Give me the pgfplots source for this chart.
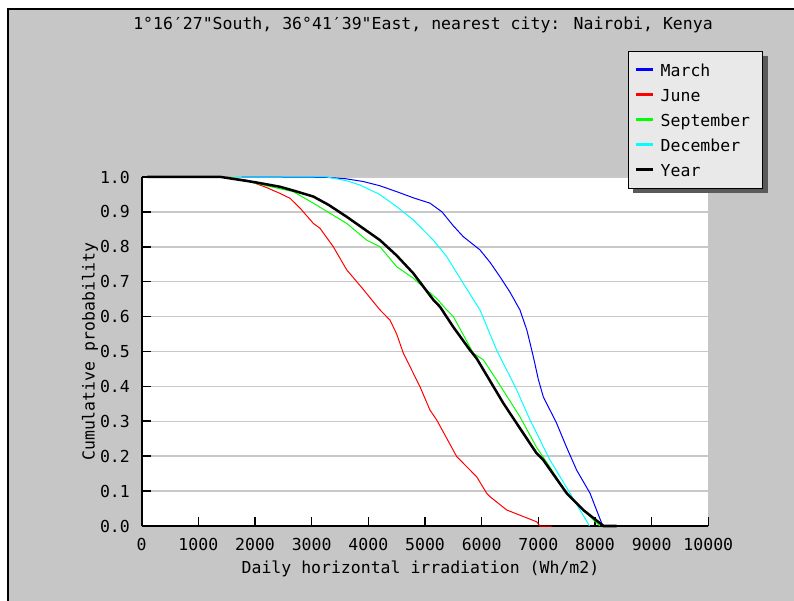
\documentclass[border=0pt]{standalone}
\usepackage{pgfplots}
\pgfplotsset{compat=1.18}
\usepackage{fontspec}
\setmainfont{DejaVu Sans Mono}[Ligatures=TeXOff]

\definecolor{panel}{RGB}{198,198,198}
\definecolor{gridgray}{RGB}{200,200,200}
\definecolor{legbg}{RGB}{233,233,233}
\definecolor{shadowgray}{RGB}{90,90,90}
\definecolor{mgreen}{RGB}{0,255,0}
\definecolor{mcyan}{RGB}{0,255,255}

\newcommand{\chartfont}{\fontsize{16.5bp}{19bp}\selectfont}

\begin{document}
\chartfont
\begin{tikzpicture}
% page: white margin, grey panel with a dark edge at left and top
\path[use as bounding box] (0,0) rectangle (794bp,601bp);
\fill[white] (0,0) rectangle (794bp,601bp);
\fill[panel] (8bp,0) rectangle (794bp,592bp);
\draw[line width=2bp] (8bp,0) -- (8bp,592bp) -- (794bp,592bp);

\begin{axis}[
    at={(141.7bp,75bp)}, anchor=south west,
    scale only axis, width=566.6bp, height=349bp,
    xmin=0, xmax=10000, ymin=0, ymax=1,
    axis background/.style={fill=white},
    axis lines*=left,
    axis line style={line width=1.6bp, black},
    tick align=inside,
    major tick length=9bp,
    tick style={line width=1.6bp, black},
    xtick={0,1000,2000,3000,4000,5000,6000,7000,8000,9000,10000},
    ytick={0,0.1,0.2,0.3,0.4,0.5,0.6,0.7,0.8,0.9,1},
    scaled x ticks=false,
    ymajorgrids,
    major grid style={gridgray, line width=1.5bp},
    /pgf/number format/assume math mode=true,
    xticklabel style={font=\chartfont, anchor=center, yshift=-18bp,
        /pgf/number format/1000 sep={}},
    yticklabel style={font=\chartfont, anchor=east, inner sep=0pt, xshift=-11.7bp,
        /pgf/number format/.cd, fixed, fixed zerofill, precision=1},
    xlabel={Daily horizontal irradiation (Wh/m2)},
    xlabel style={font=\chartfont, at={(axis description cs:0.492,-0.1232)}, anchor=center},
    ylabel={Cumulative probability},
    ylabel style={font=\chartfont, at={(axis description cs:-0.0912,0.5)}, anchor=center},
    title={1°16′27"South, 36°41′39"East, nearest city: Nairobi, Kenya},
    title style={font=\chartfont, at={(axis description cs:0.4965,1.418)}, anchor=center},
    clip=false,
    legend cell align=left,
    legend image code/.code={\draw[#1, line width=2.5bp] (0bp,0bp) -- (17bp,0bp);},
    legend style={font=\chartfont,
        at={(axis description cs:0.8583,1.361)}, anchor=north west,
        fill=legbg, draw=black,
        inner xsep=7bp, inner ysep=10.5bp,
        row sep=9bp, column sep=6bp,
        nodes={inner sep=0pt, text height=15bp, text depth=1bp},
        /tikz/every even column/.append style={text width=94bp}},
]
% March
\addplot[blue, line width=1bp] coordinates {
    (1765,1.0) (2470,1.0) (3265,0.999) (3600,0.995) (3912,0.987) (4200,0.975)
    (4500,0.958) (4800,0.94) (5088,0.925) (5300,0.9) (5500,0.86) (5676,0.829)
    (5971,0.791) (6150,0.755) (6324,0.714) (6500,0.67) (6676,0.619) (6800,0.56)
    (6912,0.485) (7000,0.42) (7088,0.37) (7324,0.294) (7500,0.225) (7677,0.16)
    (7912,0.094) (8118,0.008) (8150,0.0)
};
\addlegendentry{March}
% June
\addplot[red, line width=1bp] coordinates {
    (1500,1.0) (1853,0.991) (2200,0.97) (2441,0.953) (2617,0.939) (2800,0.91)
    (3029,0.867) (3147,0.853) (3382,0.8) (3618,0.734) (3900,0.68) (4206,0.619)
    (4382,0.59) (4500,0.55) (4618,0.495) (4912,0.399) (5088,0.332) (5206,0.304)
    (5559,0.199) (5912,0.141) (6088,0.094) (6147,0.084) (6441,0.046) (6971,0.012)
    (7030,0.0) (7235,0.0)
};
\addlegendentry{June}
% September
\addplot[mgreen, line width=1bp] coordinates {
    (1559,1.0) (1800,0.99) (2200,0.975) (2676,0.958) (3029,0.925) (3618,0.867)
    (3971,0.819) (4206,0.8) (4500,0.743) (4794,0.71) (5000,0.68) (5206,0.652)
    (5383,0.619) (5500,0.6) (5853,0.495) (6030,0.476) (6265,0.418) (6676,0.313)
    (6971,0.225) (7200,0.17) (7500,0.094) (7912,0.027) (8088,0.0)
};
\addlegendentry{September}
% December
\addplot[mcyan, line width=1bp] coordinates {
    (1650,1.0) (3265,1.0) (3600,0.99) (3853,0.977) (4200,0.95) (4500,0.915)
    (4794,0.877) (5147,0.819) (5383,0.772) (5676,0.695) (5971,0.619) (6265,0.504)
    (6618,0.39) (6853,0.304) (6971,0.266) (7206,0.189) (7559,0.094) (7882,0.006)
    (7900,0.0)
};
\addlegendentry{December}
% Year
\addplot[black, line width=2.5bp] coordinates {
    (100,1.0) (1400,1.0) (1600,0.995) (2000,0.985) (2441,0.972) (2700,0.96)
    (3029,0.944) (3300,0.92) (3618,0.886) (4206,0.819) (4500,0.775) (4794,0.724)
    (5147,0.648) (5265,0.628) (5500,0.57) (5794,0.504) (5912,0.48) (6382,0.352)
    (6618,0.294) (6971,0.208) (7088,0.189) (7500,0.094) (7800,0.045) (8088,0.008)
    (8150,0.0) (8382,0.0)
};
\addlegendentry{Year}
% shadow of the legend box, drawn before the legend itself
\fill[shadowgray] (axis description cs:0.8671,0.954) rectangle (axis description cs:1.1053,1.347);
\end{axis}
\end{tikzpicture}
\end{document}
